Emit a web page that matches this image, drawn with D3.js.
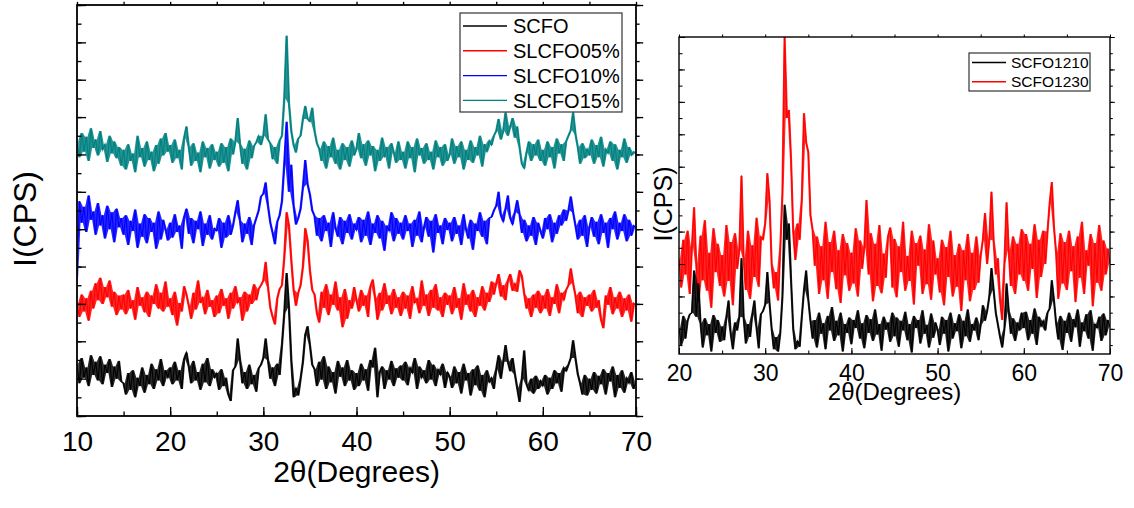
<!DOCTYPE html>
<html lang="en">
<head>
    <meta charset="UTF-8">
    <title>XRD patterns</title>
    <script src="https://cdn.jsdelivr.net/npm/d3@7"></script>
    <style>
        body{ margin:0; background:#fff; }
        .tick text{ font-family:"Liberation Sans", Arial, sans-serif; fill:#000; }
        .titulo{ font-family:"Liberation Sans", Arial, sans-serif; fill:#000; }
        .leyenda{ font-family:"Liberation Sans", Arial, sans-serif; fill:#000; }
        .traza{ fill:none; stroke-width:1.1; stroke-linejoin:miter; }
        .banda{ stroke:none; fill-opacity:0.85; }
    </style>
</head>
<body>
<div id="grafico"></div>
<script>
// ---- left panel: 2theta from 10 to 70, step 0.25 (values in arbitrary units) ----
var leftStart = 10, leftStep = 0.25;
var leftNames = ["SCFO", "SLCFO05%", "SLCFO10%", "SLCFO15%"];
var leftColors = ["#000000", "#ff0000", "#0000ff", "#008080"];
var leftTicksX = [10, 20, 30, 40, 50, 60, 70];

var scfo = [
 56,35,62,41,52,32,65,44,58,38,64,34,55,46,61,31,53,40,59,37,
 35,23,46,28,49,20,41,32,52,25,44,34,56,29,50,38,61,32,49,41,
 52,34,58,38,49,29,61,68,53,35,59,38,47,28,56,36,62,32,50,41,
 46,28,50,32,41,23,16,49,53,83,60,35,47,29,55,34,44,26,51,55,
 62,83,60,40,52,32,56,44,76,110,153,116,60,20,30,22,40,58,87,96,
 76,55,50,32,58,39,64,29,53,36,47,24,59,42,52,32,60,38,49,28,
 46,32,56,38,50,27,60,52,73,20,47,53,29,49,39,59,32,51,41,54,
 38,58,33,52,46,62,29,53,41,49,35,60,39,55,32,50,44,56,30,47,
 42,30,53,35,47,24,56,38,46,22,50,33,54,27,44,20,49,36,41,29,
 50,65,40,58,76,58,48,62,45,30,15,40,70,34,27,40,24,43,29,38,
 32,44,23,41,29,49,35,46,26,52,48,55,62,81,62,45,35,23,44,22,
 40,28,47,24,43,34,50,23,46,37,53,20,44,30,49,25,41,35,47,29,
 37];
var slcfo05 = [
 121,106,130,112,126,102,134,115,142,124,148,120,138,127,145,117,133,108,129,114,
 130,109,135,115,124,103,138,118,127,111,133,106,129,120,141,115,132,112,144,117,
 126,108,133,97,121,112,139,130,118,104,132,114,145,121,127,109,135,117,124,106,
 129,110,136,118,126,104,132,115,139,121,127,102,133,112,130,120,141,124,136,140,
 145,165,138,116,106,98,126,136,140,170,218,204,167,135,118,132,140,160,201,188,
 156,135,130,110,100,133,116,141,108,130,119,144,113,127,95,136,104,124,115,138,
 124,112,135,118,129,106,139,146,126,103,132,113,142,120,129,109,136,116,127,107,
 133,115,129,104,139,121,126,110,145,118,130,107,135,116,141,113,127,106,132,119,
 129,109,138,116,126,103,142,119,130,112,135,106,127,118,139,113,132,122,144,130,
 142,152,128,140,124,145,152,134,142,133,156,150,131,115,126,106,130,116,134,110,
 129,115,136,107,127,120,141,110,132,124,135,140,158,142,129,110,133,106,127,118,
 130,112,135,116,124,103,94,129,119,138,109,127,115,133,106,126,113,130,101,121,
 118];
var slcfo10 = [
 146,230,207,224,197,236,210,219,194,228,204,215,190,225,200,218,186,222,202,212,
 194,215,183,209,198,221,180,206,192,216,185,212,197,207,179,219,189,210,200,188,
 207,191,216,197,204,179,213,222,195,212,185,209,200,219,182,206,194,215,189,201,
 198,212,180,207,191,215,194,204,218,231,209,186,206,195,213,183,204,212,220,235,
 238,250,225,207,196,184,208,215,230,270,315,240,269,225,205,212,222,245,274,248,
 237,220,214,193,212,187,215,198,207,181,218,201,192,213,184,209,196,216,189,206,
 199,213,186,210,193,219,183,206,196,215,190,209,177,204,198,218,187,212,195,207,
 189,215,198,206,181,210,193,219,186,202,213,192,209,175,216,196,204,184,212,199,
 207,187,213,195,204,183,216,200,190,210,178,206,198,218,192,209,184,212,213,220,
 225,240,215,208,222,236,212,205,218,231,216,196,210,187,204,193,213,183,207,198,
 190,212,200,216,186,207,195,215,204,221,209,220,235,218,204,189,210,193,215,181,
 202,213,192,208,184,216,196,207,180,212,200,219,189,207,198,216,187,210,193,204,
 201];
var slcfo15 = [
 294,277,303,283,299,273,308,287,296,279,305,285,291,272,300,281,294,276,288,268,
 285,264,291,273,281,261,300,277,287,267,294,274,283,262,290,270,297,279,303,283,
 290,271,296,276,285,264,298,310,288,268,292,273,282,261,294,277,287,265,291,274,
 283,267,292,271,288,262,297,280,294,319,291,270,286,264,295,276,289,293,300,290,
 300,323,296,292,275,288,270,295,300,340,407,335,305,290,282,297,300,318,332,318,
 315,330,305,292,286,273,294,265,289,277,298,270,285,264,292,274,288,267,295,279,
 286,303,276,291,268,295,279,289,262,285,273,298,277,288,265,292,282,271,294,274,
 283,265,294,276,288,261,297,279,287,270,292,274,283,264,295,277,288,268,291,273,
 280,297,270,289,277,294,264,285,274,295,271,288,279,300,267,291,283,295,290,300,
 305,318,296,305,325,300,310,319,298,310,288,270,265,282,294,273,291,279,296,273,
 285,268,294,277,288,265,297,281,291,273,294,300,306,325,302,288,270,292,276,286,
 279,296,270,290,277,299,267,286,281,294,273,291,264,285,277,297,271,288,279,283,
 281];

// ---- right panel: 2theta from 20 to 70, step 0.25 ----
var rightStart = 20, rightStep = 0.25;
var rightNames = ["SCFO1210", "SCFO1230"];
var rightColors = ["#000000", "#ff0000"];
var rightTicksX = [20, 30, 40, 50, 60, 70];

var scfo1210 = [
 41,20,56,28,50,58,60,112,55,96,47,17,53,32,46,12,57,35,51,24,
 43,26,55,75,34,15,48,38,55,127,54,22,46,30,58,75,41,16,58,62,
 70,110,72,40,15,30,12,35,80,193,150,170,100,40,15,25,18,55,88,112,
 76,50,28,51,17,60,34,47,15,56,38,67,25,50,32,60,12,46,35,54,
 21,51,41,63,28,47,16,57,35,52,25,64,33,46,13,55,39,48,24,60,
 31,54,18,50,38,61,26,46,11,56,41,51,22,63,34,45,17,59,29,48,
 39,20,55,34,51,12,60,28,47,37,58,16,50,31,64,24,46,38,54,26,
 45,69,50,62,80,115,88,60,45,30,17,40,96,62,34,53,25,48,38,60,
 41,61,26,51,34,65,20,55,43,50,38,60,65,100,75,47,27,56,14,50,
 35,60,24,52,42,64,18,48,37,58,28,63,13,46,41,55,25,59,32,51,
 42];
var scfo1230 = [
 127,91,150,107,161,83,141,190,120,73,155,100,174,87,134,66,164,110,145,93,
 131,80,168,99,147,69,158,114,138,229,127,88,161,77,143,104,177,92,154,150,
 170,232,199,120,90,110,75,140,207,400,300,310,248,160,125,170,150,200,306,270,
 258,180,162,118,154,83,142,100,172,77,147,110,161,89,137,72,157,106,146,87,
 134,96,164,80,149,114,141,199,107,158,74,145,93,168,84,133,103,154,165,91,
 151,79,142,110,172,87,130,99,161,70,146,118,155,83,138,95,169,76,149,107,
 127,85,150,69,141,104,161,80,131,92,145,62,137,100,157,74,134,88,154,97,
 130,150,183,120,150,209,149,107,127,75,51,120,196,137,93,154,83,145,107,163,
 99,157,87,145,114,169,78,150,104,161,120,160,195,221,165,134,77,158,96,147,
 88,161,111,142,73,154,103,172,83,137,118,157,68,146,97,168,87,149,107,139,
 120];

var leftSeries = [scfo, slcfo05, slcfo10, slcfo15];
var rightSeries = [scfo1210, scfo1230];

var w = 1134, h = 508;
var svg = d3.select("#grafico").append("svg")
    .attr("width", w)
    .attr("height", h);

function panel(cfg){
    var x = d3.scaleLinear().domain(cfg.xDomain).range([cfg.x0, cfg.x1]);
    var y = d3.scaleLinear().domain(cfg.yDomain).range([cfg.y1, cfg.y0]);
    var g = svg.append("g");

    g.append("clipPath").attr("id", cfg.id + "clip")
        .append("rect")
        .attr("x", cfg.x0).attr("y", cfg.y0)
        .attr("width", cfg.x1 - cfg.x0).attr("height", cfg.y1 - cfg.y0);

    var linea = d3.line()
        .x(function(d, i){ return x(cfg.start + i * cfg.step); })
        .y(function(d){ return y(d); });
    // span swept between consecutive readings, placed at the segment middle
    var banda = d3.area()
        .x(function(d, i){ return x(cfg.start + (i + 0.5) * cfg.step); })
        .y0(function(d){ return y(d[0]); })
        .y1(function(d){ return y(d[1]); });

    // traces (drawn in reverse so the first series ends on top)
    var orden = cfg.order || d3.range(cfg.series.length).reverse();
    orden.forEach(function(k){
        var s = cfg.series[k];
        var pares = d3.pairs(s).map(function(p){ return [Math.min(p[0], p[1]), Math.max(p[0], p[1])]; });
        g.append("path")
            .datum(pares)
            .classed("banda", true)
            .attr("clip-path", "url(#" + cfg.id + "clip)")
            .attr("fill", cfg.colors[k])
            .attr("d", banda);
        g.append("path")
            .datum(s)
            .classed("traza", true)
            .attr("clip-path", "url(#" + cfg.id + "clip)")
            .attr("stroke", cfg.colors[k])
            .attr("d", linea);
    });

    // ticks: bottom (labels below, ticks pointing up)
    var minorX = d3.range(cfg.xDomain[0], cfg.xDomain[1] + 0.1, 5);
    g.append("g").attr("transform", "translate(0," + cfg.y1 + ")")
        .call(d3.axisBottom(x).tickValues(minorX).tickSize(-cfg.minor).tickFormat(""));
    var bottomMaj = g.append("g").attr("transform", "translate(0," + cfg.y1 + ")");
    bottomMaj.call(d3.axisBottom(x).tickValues(cfg.ticksX).tickSize(-cfg.major).tickFormat(d3.format("d")));
    bottomMaj.selectAll("text")
        .attr("y", cfg.labelDy).attr("dy", null)
        .style("font-size", cfg.labelSize + "px");

    // top ticks (pointing out)
    g.append("g").attr("transform", "translate(0," + cfg.y0 + ")")
        .call(d3.axisTop(x).tickValues(minorX).tickSize(cfg.minor * 0.7).tickFormat(""));

    // left and right ticks, both pointing to the right
    var yMinor = d3.range(cfg.yTick0, cfg.yDomain[1] + 0.01, cfg.yStep);
    var yMajor = yMinor.filter(function(v){ return Math.round(v / cfg.yStep) % 2 === 0; });
    [cfg.x0, cfg.x1].forEach(function(px, j){
        var f = j === 0 ? 1 : 0.8;
        g.append("g").attr("transform", "translate(" + px + ",0)")
            .call(d3.axisRight(y).tickValues(yMinor).tickSize(cfg.minor * f).tickFormat(""));
        g.append("g").attr("transform", "translate(" + px + ",0)")
            .call(d3.axisRight(y).tickValues(yMajor).tickSize(cfg.major * f).tickFormat(""));
    });
    g.selectAll(".domain").remove();
    g.selectAll(".tick line").attr("stroke", "#000").attr("stroke-width", cfg.frameW * 0.75);

    // frame
    g.append("rect")
        .attr("x", cfg.x0).attr("y", cfg.y0)
        .attr("width", cfg.x1 - cfg.x0).attr("height", cfg.y1 - cfg.y0)
        .attr("fill", "none").attr("stroke", "#000").attr("stroke-width", cfg.frameW);

    // titles
    g.append("text").classed("titulo", true)
        .attr("x", (cfg.x0 + cfg.x1) / 2).attr("y", cfg.xTitleY)
        .attr("text-anchor", "middle")
        .style("font-size", cfg.xTitleSize + "px")
        .text("2θ(Degrees)");
    g.append("text").classed("titulo", true)
        .attr("transform", "translate(" + cfg.yTitleX + "," + cfg.yTitleCy + ") rotate(-90)")
        .attr("text-anchor", "middle")
        .style("font-size", cfg.yTitleSize + "px")
        .text("I(CPS)");

    // legend
    var L = cfg.legend;
    g.append("rect")
        .attr("x", L.x).attr("y", L.y).attr("width", L.w).attr("height", L.h)
        .attr("fill", "#fff").attr("stroke", "#333").attr("stroke-width", 1.2);
    cfg.names.forEach(function(n, k){
        var yy = L.y + L.first + k * L.gap;
        g.append("line")
            .attr("x1", L.x + 3).attr("x2", L.x + 3 + L.lineLen)
            .attr("y1", yy).attr("y2", yy)
            .attr("stroke", cfg.colors[k]).attr("stroke-width", 1.4);
        g.append("text").classed("leyenda", true)
            .attr("x", L.x + L.textDx).attr("y", yy)
            .attr("dy", "0.36em")
            .style("font-size", L.size + "px")
            .text(n);
    });
}

panel({
    id: "izq", series: leftSeries, names: leftNames, colors: leftColors,
    start: leftStart, step: leftStep,
    xDomain: [10, 70], yDomain: [0, 440], yTick0: 0, yStep: 20,
    x0: 77, x1: 636, y0: 5, y1: 416,
    ticksX: leftTicksX, major: 9, minor: 4.5, frameW: 1.8,
    labelSize: 28, labelDy: 35,
    xTitleY: 482, xTitleSize: 30,
    yTitleX: 36, yTitleCy: 219, yTitleSize: 32,
    legend: { x: 460, y: 13, w: 162, h: 99, first: 13, gap: 24.8, lineLen: 44, textDx: 53, size: 20 }
});

panel({
    id: "der", series: rightSeries, names: rightNames, colors: rightColors,
    order: [1, 0],
    start: rightStart, step: rightStep,
    xDomain: [20, 70], yDomain: [9, 400], yTick0: 20, yStep: 20,
    x0: 679, x1: 1110, y0: 37, y1: 354,
    ticksX: rightTicksX, major: 6, minor: 3.5, frameW: 1.4,
    labelSize: 23, labelDy: 27,
    xTitleY: 400, xTitleSize: 24,
    yTitleX: 672, yTitleCy: 204, yTitleSize: 25,
    legend: { x: 969, y: 53, w: 121, h: 38, first: 9.5, gap: 19.2, lineLen: 34, textDx: 42, size: 15.5 }
});
</script>
</body>
</html>
